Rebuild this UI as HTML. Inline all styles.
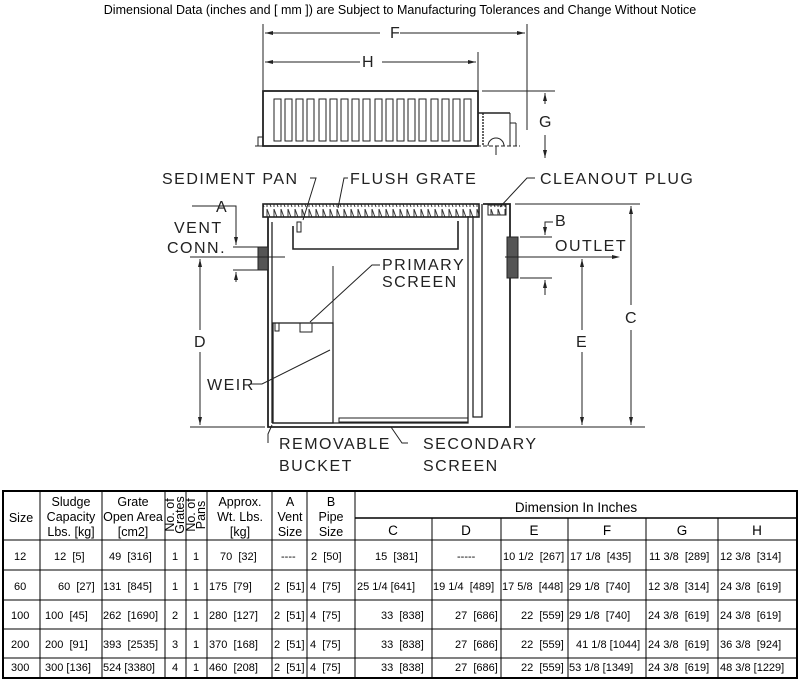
<!DOCTYPE html>
<html><head><meta charset="utf-8"><style>
body{margin:0;background:#fff;width:800px;height:681px;overflow:hidden}
svg{display:block;font-family:"Liberation Sans",sans-serif}
.l{font-size:16px;fill:#222;letter-spacing:1.5px}
.t{font-size:12px;fill:#000}
.b text{white-space:pre}
</style></head><body>
<svg width="800" height="681" viewBox="0 0 800 681">
<defs><pattern id="h" width="7" height="13" patternUnits="userSpaceOnUse"><line x1="1" y1="1" x2="1" y2="12" stroke="#333"/><line x1="1" y1="1" x2="5" y2="12" stroke="#333"/></pattern></defs>
<text x="400" y="14" text-anchor="middle" class="t" style="font-size:12.5px">Dimensional Data (inches and [ mm ]) are Subject to Manufacturing Tolerances and Change Without Notice</text>
<g stroke="#222" fill="none" stroke-width="1">
<line x1="263" y1="24" x2="263" y2="90"/><line x1="527" y1="24" x2="527" y2="130"/><line x1="478" y1="52" x2="478" y2="90"/>
<line x1="265" y1="33" x2="380" y2="33"/><line x1="400" y1="33" x2="525" y2="33"/>
<line x1="265" y1="62" x2="360" y2="62"/><line x1="382" y1="62" x2="476" y2="62"/>
<line x1="482" y1="91" x2="555" y2="91"/>
<line x1="545" y1="93" x2="545" y2="104"/><line x1="545" y1="135" x2="545" y2="158"/>
<rect x="263" y="91" width="215" height="55" stroke-width="1.8"/>
<line x1="478" y1="113" x2="510" y2="113" stroke-width="1.4"/><line x1="510" y1="113" x2="510" y2="146"/><line x1="510" y1="123" x2="516" y2="123"/><line x1="516" y1="123" x2="516" y2="146"/>
<line x1="483" y1="113" x2="483" y2="146" stroke-dasharray="2 1" stroke-width="1.4"/>
<path d="M488 146 A8 8 0 0 1 504 146"/><line x1="496" y1="146" x2="496" y2="155"/>
<line x1="255" y1="146" x2="520" y2="146" stroke-dasharray="4 2"/>
<rect x="258" y="137" width="5" height="9"/>
<g>
<rect x="274" y="99" width="7" height="42"/><rect x="285" y="99" width="7" height="42"/><rect x="296" y="99" width="7" height="42"/><rect x="307" y="99" width="7" height="42"/><rect x="319" y="99" width="7" height="42"/><rect x="330" y="99" width="7" height="42"/><rect x="341" y="99" width="7" height="42"/><rect x="352" y="99" width="7" height="42"/><rect x="363" y="99" width="7" height="42"/><rect x="375" y="99" width="7" height="42"/><rect x="386" y="99" width="7" height="42"/><rect x="397" y="99" width="7" height="42"/><rect x="408" y="99" width="7" height="42"/><rect x="419" y="99" width="7" height="42"/><rect x="431" y="99" width="7" height="42"/><rect x="442" y="99" width="7" height="42"/><rect x="453" y="99" width="7" height="42"/><rect x="464" y="99" width="7" height="42"/>
</g>
<rect x="263" y="204" width="216" height="13" stroke-width="1.6" fill="url(#h)"/>
<path d="M268 217 V427 H510 V204 H483" stroke-width="1.8"/>
<line x1="272" y1="222" x2="272" y2="423" stroke-width="1.3"/>
<path d="M272 423 H468 V216" stroke-width="1.3"/><path d="M473 216 V417 H482 V204" stroke-width="1.3"/>
<path d="M293 226 V249 H458 V221" stroke-width="1.6"/>
<rect x="297" y="222" width="4" height="10"/>
<rect x="488" y="205" width="18" height="10" fill="url(#h)"/>
<rect x="273" y="323" width="60" height="100" stroke-width="1.3"/><line x1="333" y1="266" x2="333" y2="323"/>
<rect x="275" y="323" width="4" height="8"/><rect x="300" y="323" width="12" height="9"/>
<rect x="339" y="418" width="129" height="4"/>
<rect x="258" y="247" width="10" height="23" fill="#555"/>
<rect x="507" y="237" width="11" height="41" fill="#555"/>
<line x1="190" y1="427" x2="265" y2="427"/><line x1="515" y1="427" x2="645" y2="427"/>
<line x1="190" y1="257" x2="285" y2="257"/><line x1="505" y1="257" x2="600" y2="257"/>
<line x1="233" y1="247" x2="258" y2="247"/><line x1="233" y1="270" x2="258" y2="270"/>
<path d="M192 206 H236 V245"/><line x1="236" y1="272" x2="236" y2="282"/>
<line x1="200" y1="259" x2="200" y2="330"/><line x1="200" y1="352" x2="200" y2="425"/>
<line x1="520" y1="237" x2="552" y2="237"/><line x1="520" y1="278" x2="552" y2="278"/>
<path d="M553 222 H545 V235"/><line x1="545" y1="280" x2="545" y2="295"/>
<line x1="582" y1="259" x2="582" y2="330"/><line x1="582" y1="352" x2="582" y2="425"/>
<line x1="515" y1="204" x2="640" y2="204"/>
<line x1="631" y1="206" x2="631" y2="305"/><line x1="631" y1="330" x2="631" y2="425"/>
<line x1="582" y1="257" x2="618" y2="257"/>
<path d="M310 178 H316 L303 220"/><path d="M348 178 H344 L338 208"/><path d="M535 178 H527 L500 207"/>
<path d="M380 265 H372 L310 322"/><path d="M250 384 H262 L330 350"/>
<path d="M268 443 V434 L272 425"/><path d="M408 443 H402 L391 427"/>
</g>
<g fill="#222">
<path d="M265 33 l8 -2 v4z"/><path d="M525 33 l-8 -2 v4z"/><path d="M265 62 l8 -2 v4z"/><path d="M476 62 l-8 -2 v4z"/>
<path d="M545 93 l-2 8 h4z"/><path d="M545 158 l-2 -8 h4z"/>
<path d="M200 259 l-2 8 h4z"/><path d="M200 425 l-2 -8 h4z"/>
<path d="M236 245 l-2 -8 h4z"/><path d="M236 272 l-2 8 h4z"/>
<path d="M545 235 l-2 -8 h4z"/><path d="M545 280 l-2 8 h4z"/>
<path d="M582 259 l-2 8 h4z"/><path d="M582 425 l-2 -8 h4z"/>
<path d="M631 206 l-2 8 h4z"/><path d="M631 425 l-2 -8 h4z"/><path d="M620 257 l-8 -2 v4z"/>
</g>
<text x="390" y="38" class="l">F</text><text x="362" y="67" class="l">H</text><text x="539" y="127" class="l">G</text>
<text x="162" y="184" class="l">SEDIMENT PAN</text><text x="350" y="184" class="l">FLUSH GRATE</text><text x="540" y="184" class="l">CLEANOUT PLUG</text>
<text x="216" y="212" class="l">A</text><text x="174" y="233" class="l">VENT</text><text x="167" y="253" class="l">CONN.</text>
<text x="555" y="226" class="l">B</text><text x="555" y="251" class="l">OUTLET</text>
<text x="382" y="270" class="l">PRIMARY</text><text x="382" y="287" class="l">SCREEN</text>
<text x="194" y="347" class="l">D</text><text x="576" y="347" class="l">E</text><text x="625" y="323" class="l">C</text>
<text x="207" y="390" class="l">WEIR</text>
<text x="279" y="449" class="l">REMOVABLE</text><text x="279" y="471" class="l">BUCKET</text>
<text x="423" y="449" class="l">SECONDARY</text><text x="423" y="471" class="l">SCREEN</text>
<g stroke="#000" fill="none">
<rect x="3" y="491" width="794" height="187" stroke-width="2"/>
<line x1="3" y1="540" x2="797" y2="540"/><line x1="3" y1="570" x2="797" y2="570"/><line x1="3" y1="600" x2="797" y2="600"/><line x1="3" y1="629" x2="797" y2="629"/><line x1="3" y1="658" x2="797" y2="658"/>
<line x1="355" y1="518" x2="797" y2="518" stroke-width="1.5"/>
<line x1="40" y1="491" x2="40" y2="678"/><line x1="102" y1="491" x2="102" y2="678"/><line x1="165" y1="491" x2="165" y2="678"/><line x1="186" y1="491" x2="186" y2="678"/><line x1="207" y1="491" x2="207" y2="678"/><line x1="272" y1="491" x2="272" y2="678"/><line x1="307" y1="491" x2="307" y2="678"/><line x1="355" y1="491" x2="355" y2="678"/>
<line x1="432" y1="518" x2="432" y2="678"/><line x1="501" y1="518" x2="501" y2="678"/><line x1="568" y1="518" x2="568" y2="678"/><line x1="646" y1="518" x2="646" y2="678"/><line x1="718" y1="518" x2="718" y2="678"/>
</g>
<g class="t" text-anchor="middle" style="font-size:12.5px">
<text x="21" y="522">Size</text>
<text x="71" y="506">Sludge</text><text x="71" y="521">Capacity</text><text x="71" y="536">Lbs. [kg]</text>
<text x="133" y="506">Grate</text><text x="133" y="521">Open Area</text><text x="133" y="536">[cm2]</text>
<text transform="translate(174,515) rotate(-90)">No. of</text><text transform="translate(184,515) rotate(-90)">Grates</text>
<text transform="translate(195,515) rotate(-90)">No. of</text><text transform="translate(205,515) rotate(-90)">Pans</text>
<text x="240" y="506">Approx.</text><text x="240" y="521">Wt. Lbs.</text><text x="240" y="536">[kg]</text>
<text x="290" y="506">A</text><text x="290" y="521">Vent</text><text x="290" y="536">Size</text>
<text x="331" y="506">B</text><text x="331" y="521">Pipe</text><text x="331" y="536">Size</text>
<text x="576" y="512" style="font-size:13.5px">Dimension In Inches</text>
<text x="393" y="535" style="font-size:13.5px">C</text><text x="466" y="535" style="font-size:13.5px">D</text><text x="534" y="535" style="font-size:13.5px">E</text><text x="607" y="535" style="font-size:13.5px">F</text><text x="682" y="535" style="font-size:13.5px">G</text><text x="757" y="535" style="font-size:13.5px">H</text>
</g>
<g class="t b" style="font-size:11px">
<text x="14" y="560">12</text><text x="54" y="560">12  [5]</text><text x="109" y="560">49  [316]</text><text x="172" y="560">1</text><text x="193" y="560">1</text><text x="220" y="560">70  [32]</text><text x="281" y="560">----</text><text x="311" y="560">2  [50]</text><text x="375" y="560">15  [381]</text><text x="457" y="560">-----</text><text x="503" y="560">10 1/2  [267]</text><text x="570" y="560">17 1/8  [435]</text><text x="649" y="560">11 3/8  [289]</text><text x="720" y="560">12 3/8  [314]</text>
<text x="14" y="590">60</text><text x="58" y="590">60  [27]</text><text x="103" y="590">131  [845]</text><text x="172" y="590">1</text><text x="193" y="590">1</text><text x="209" y="590">175  [79]</text><text x="274" y="590">2  [51]</text><text x="310" y="590">4  [75]</text><text x="357" y="590">25 1/4 [641]</text><text x="433" y="590">19 1/4  [489]</text><text x="502" y="590">17 5/8  [448]</text><text x="569" y="590">29 1/8  [740]</text><text x="648" y="590">12 3/8  [314]</text><text x="720" y="590">24 3/8  [619]</text>
<text x="11" y="619">100</text><text x="45" y="619">100  [45]</text><text x="103" y="619">262  [1690]</text><text x="172" y="619">2</text><text x="193" y="619">1</text><text x="209" y="619">280  [127]</text><text x="274" y="619">2  [51]</text><text x="310" y="619">4  [75]</text><text x="381" y="619">33  [838]</text><text x="455" y="619">27  [686]</text><text x="521" y="619">22  [559]</text><text x="569" y="619">29 1/8  [740]</text><text x="648" y="619">24 3/8  [619]</text><text x="720" y="619">24 3/8  [619]</text>
<text x="11" y="648">200</text><text x="45" y="648">200  [91]</text><text x="103" y="648">393  [2535]</text><text x="172" y="648">3</text><text x="193" y="648">1</text><text x="209" y="648">370  [168]</text><text x="274" y="648">2  [51]</text><text x="310" y="648">4  [75]</text><text x="381" y="648">33  [838]</text><text x="455" y="648">27  [686]</text><text x="521" y="648">22  [559]</text><text x="576" y="648">41 1/8 [1044]</text><text x="648" y="648">24 3/8  [619]</text><text x="720" y="648">36 3/8  [924]</text>
<text x="11" y="671">300</text><text x="45" y="671">300 [136]</text><text x="103" y="671">524 [3380]</text><text x="172" y="671">4</text><text x="193" y="671">1</text><text x="209" y="671">460  [208]</text><text x="274" y="671">2  [51]</text><text x="310" y="671">4  [75]</text><text x="381" y="671">33  [838]</text><text x="455" y="671">27  [686]</text><text x="521" y="671">22  [559]</text><text x="569" y="671">53 1/8 [1349]</text><text x="648" y="671">24 3/8  [619]</text><text x="720" y="671">48 3/8 [1229]</text>
</g>
</svg>
</body></html>
